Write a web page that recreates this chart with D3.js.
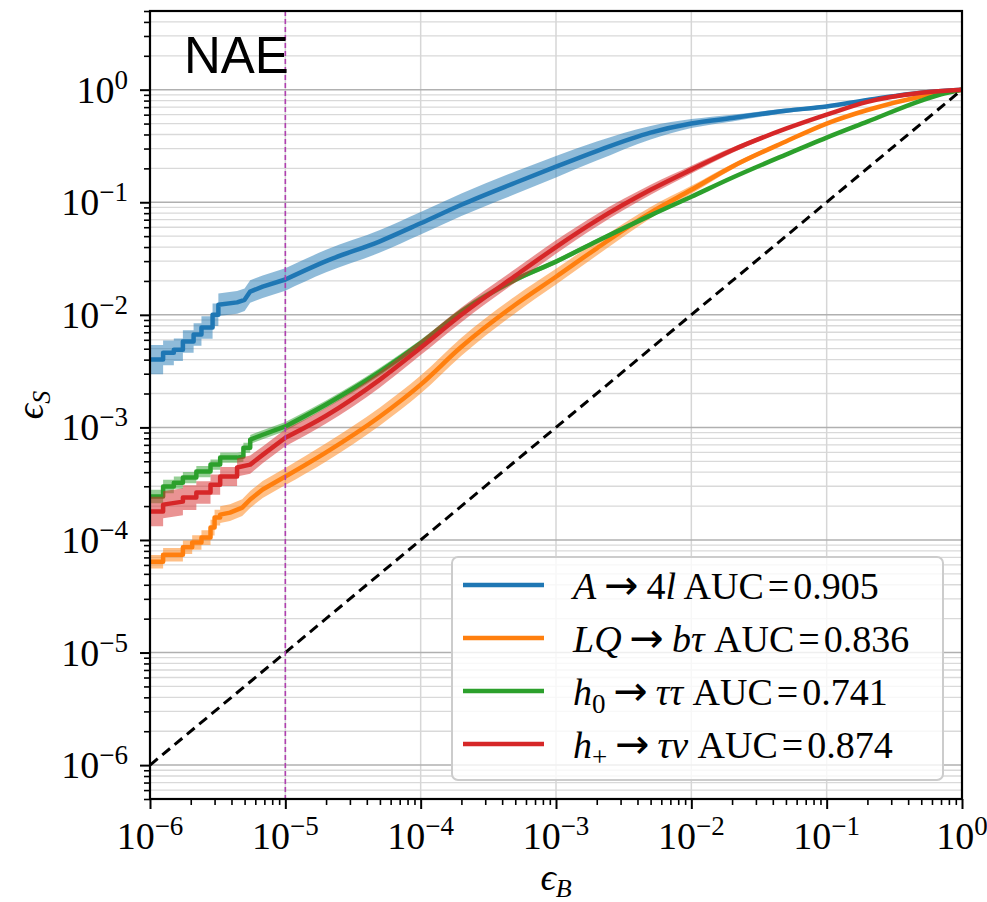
<!DOCTYPE html>
<html>
<head>
<meta charset="utf-8">
<script src="https://cdn.jsdelivr.net/npm/d3@7"></script>
<style>
  body { margin: 0; background: #fff; }
  svg text { font-family: "Liberation Serif", "DejaVu Serif", serif; }
</style>
</head>
<body>
<div id="chart"></div>
<script>
// ROC curves: [fpr, tpr, band half-width in decades]
var rocA4l = [
    [1e-6, 4.0e-3, 0.13], [1.25e-6, 4.0e-3, 0.13], [1.25e-6, 4.6e-3, 0.11], [1.5e-6, 4.6e-3, 0.11],
    [1.5e-6, 4.9e-3, 0.10], [1.75e-6, 4.9e-3, 0.10], [1.75e-6, 5.8e-3, 0.10], [2.1e-6, 5.8e-3, 0.10],
    [2.1e-6, 6.7e-3, 0.10], [2.4e-6, 6.7e-3, 0.10], [2.4e-6, 7.7e-3, 0.10], [2.9e-6, 7.7e-3, 0.10],
    [2.9e-6, 1.0e-2, 0.10], [3.2e-6, 1.0e-2, 0.10], [3.2e-6, 1.23e-2, 0.10], [4.4e-6, 1.29e-2, 0.10],
    [5.0e-6, 1.36e-2, 0.10], [5.5e-6, 1.61e-2, 0.10], [6.8e-6, 1.78e-2, 0.10], [1e-5, 2.06e-2, 0.10],
    [2e-5, 3.0e-2, 0.10], [5e-5, 4.5e-2, 0.10], [1e-4, 6.5e-2, 0.10], [2e-4, 9.5e-2, 0.10],
    [5e-4, 0.149, 0.10], [1e-3, 0.207, 0.095], [2e-3, 0.285, 0.085], [5e-3, 0.415, 0.06],
    [1e-2, 0.50, 0.04], [2e-2, 0.56, 0.03], [5e-2, 0.65, 0.02], [1e-1, 0.71, 0.014],
    [2e-1, 0.81, 0.009], [5e-1, 0.94, 0.004], [1, 1, 0]
];

var rocLQ = [
    [1e-6, 6.4e-5, 0.06], [1.25e-6, 6.4e-5, 0.06], [1.25e-6, 7.4e-5, 0.06], [1.75e-6, 7.4e-5, 0.06],
    [1.75e-6, 8.6e-5, 0.06], [2.05e-6, 8.6e-5, 0.06], [2.05e-6, 9.5e-5, 0.065], [2.4e-6, 9.5e-5, 0.065],
    [2.4e-6, 1.05e-4, 0.065], [2.8e-6, 1.05e-4, 0.065], [2.8e-6, 1.29e-4, 0.07], [3.0e-6, 1.29e-4, 0.07],
    [3.0e-6, 1.58e-4, 0.07], [3.3e-6, 1.58e-4, 0.07], [3.3e-6, 1.68e-4, 0.075], [3.9e-6, 1.75e-4, 0.075],
    [4.8e-6, 1.94e-4, 0.075], [5.5e-6, 2.29e-4, 0.075], [6.8e-6, 2.81e-4, 0.075], [1e-5, 3.66e-4, 0.075],
    [2e-5, 6.0e-4, 0.08], [5e-5, 1.25e-3, 0.08], [1e-4, 2.4e-3, 0.08], [2e-4, 5.2e-3, 0.08],
    [5e-4, 1.23e-2, 0.075], [1e-3, 2.18e-2, 0.07], [2e-3, 3.9e-2, 0.065], [5e-3, 8.1e-2, 0.05],
    [1e-2, 0.129, 0.035], [2e-2, 0.207, 0.024], [5e-2, 0.347, 0.014], [1e-1, 0.50, 0.009],
    [2e-1, 0.66, 0.006], [5e-1, 0.87, 0.003], [1, 1, 0]
];

var rocH0 = [
    [1e-6, 2.43e-4, 0.06], [1.25e-6, 2.43e-4, 0.06], [1.25e-6, 2.98e-4, 0.06], [1.5e-6, 2.98e-4, 0.06],
    [1.5e-6, 3.23e-4, 0.055], [1.75e-6, 3.23e-4, 0.055], [1.75e-6, 3.58e-4, 0.05], [2.2e-6, 3.58e-4, 0.05],
    [2.2e-6, 4.05e-4, 0.05], [2.8e-6, 4.05e-4, 0.05], [2.8e-6, 4.67e-4, 0.045], [3.3e-6, 4.67e-4, 0.045],
    [3.3e-6, 5.39e-4, 0.045], [4.4e-6, 5.39e-4, 0.045], [4.9e-6, 5.5e-4, 0.045], [4.9e-6, 6.6e-4, 0.045],
    [5.5e-6, 6.6e-4, 0.045], [5.5e-6, 7.8e-4, 0.04], [6.8e-6, 8.6e-4, 0.04], [1e-5, 1.02e-3, 0.04],
    [2e-5, 1.6e-3, 0.035], [5e-5, 3.13e-3, 0.035], [1e-4, 5.6e-3, 0.03], [2e-4, 1.07e-2, 0.03],
    [5e-4, 2.05e-2, 0.025], [1e-3, 2.97e-2, 0.022], [2e-3, 4.5e-2, 0.02], [5e-3, 7.65e-2, 0.017],
    [1e-2, 0.112, 0.014], [2e-2, 0.165, 0.011], [5e-2, 0.265, 0.009], [1e-1, 0.375, 0.007],
    [2e-1, 0.52, 0.005], [5e-1, 0.80, 0.002], [7e-1, 0.91, 0.001], [1, 1, 0]
];

var rocHp = [
    [1e-6, 1.79e-4, 0.13], [1.25e-6, 1.79e-4, 0.13], [1.25e-6, 2.06e-4, 0.12], [1.75e-6, 2.19e-4, 0.12],
    [1.75e-6, 2.38e-4, 0.11], [2.2e-6, 2.38e-4, 0.11], [2.2e-6, 2.64e-4, 0.10], [2.8e-6, 2.64e-4, 0.10],
    [2.8e-6, 3.1e-4, 0.09], [3.3e-6, 3.1e-4, 0.09], [3.3e-6, 3.66e-4, 0.085], [4.4e-6, 3.66e-4, 0.085],
    [4.4e-6, 4.4e-4, 0.08], [5.5e-6, 4.67e-4, 0.08], [6.8e-6, 5.7e-4, 0.075], [1e-5, 8.1e-4, 0.075],
    [2e-5, 1.27e-3, 0.07], [5e-5, 2.66e-3, 0.07], [1e-4, 5.1e-3, 0.065], [2e-4, 1.0e-2, 0.065],
    [5e-4, 2.22e-2, 0.06], [1e-3, 4.0e-2, 0.06], [2e-3, 6.9e-2, 0.055], [5e-3, 0.129, 0.045],
    [1e-2, 0.195, 0.035], [2e-2, 0.29, 0.024], [5e-2, 0.45, 0.014], [1e-1, 0.60, 0.009],
    [2e-1, 0.78, 0.005], [5e-1, 0.94, 0.002], [1, 1, 0]
];

var seriesColors = ['#1f77b4', '#ff7f0e', '#2ca02c', '#d62728'];

// legend labels, split into [text, style] pieces (i = italic, s = subscript, a = arrow, e = relation)
var seriesLabels = [
    [['A', 'i'], ['\u2192', 'a'], ['4', ''], ['l', 'i'], [' AUC', ''], ['=', 'e'], ['0.905', '']],
    [['LQ', 'i'], ['\u2192', 'a'], ['b\u03c4', 'i'], [' AUC', ''], ['=', 'e'], ['0.836', '']],
    [['h', 'i'], ['0', 's'], ['\u2192', 'a'], ['\u03c4\u03c4', 'i'], [' AUC', ''], ['=', 'e'], ['0.741', '']],
    [['h', 'i'], ['+', 's'], ['\u2192', 'a'], ['\u03c4\u03bd', 'i'], [' AUC', ''], ['=', 'e'], ['0.874', '']]
];

var xDomain = [1e-6, 1];
var yDomain = [5e-7, 5];
var xMajor = [1e-6, 1e-5, 1e-4, 1e-3, 1e-2, 1e-1, 1];
var xMajorExp = ['\u22126', '\u22125', '\u22124', '\u22123', '\u22122', '\u22121', '0'];
var yMajor = [1e-6, 1e-5, 1e-4, 1e-3, 1e-2, 1e-1, 1];
var yMajorExp = ['\u22126', '\u22125', '\u22124', '\u22123', '\u22122', '\u22121', '0'];
var diagonal = [[1e-6, 1e-6], [1, 1]];
var workingPoint = 1e-5;
var panelTitle = 'NAE';

function minorTicks(domain) {
    var out = [];
    for (var e = -8; e <= 1; e++) {
        for (var k = 2; k <= 9; k++) {
            var v = k * Math.pow(10, e);
            if (v >= domain[0] * 0.999 && v <= domain[1] * 1.001) out.push(v);
        }
    }
    return out;
}

function drawChart() {
    var width = 987, height = 902;
    var left = 150, right = 962, top = 11, bottom = 799;

    var svg = d3.select('#chart').append('svg')
        .attr('width', width)
        .attr('height', height);

    var x = d3.scaleLog().domain(xDomain).range([left, right]);
    var y = d3.scaleLog().domain(yDomain).range([bottom, top]);

    svg.append('defs').append('clipPath').attr('id', 'plot-clip')
        .append('rect')
        .attr('x', left).attr('y', top)
        .attr('width', right - left).attr('height', bottom - top);

    var yMinor = minorTicks(yDomain);

    // grid lines
    var grid = svg.append('g');
    grid.selectAll('.ygm').data(yMinor).enter().append('line')
        .attr('x1', left).attr('x2', right)
        .attr('y1', d => y(d)).attr('y2', d => y(d))
        .style('stroke', '#d9d9d9').style('stroke-width', 1.3);
    grid.selectAll('.xg').data(xMajor.slice(1, -1)).enter().append('line')
        .attr('x1', d => x(d)).attr('x2', d => x(d))
        .attr('y1', top).attr('y2', bottom)
        .style('stroke', '#d6d6d6').style('stroke-width', 1.5);
    grid.selectAll('.ygM').data(yMajor).enter().append('line')
        .attr('x1', left).attr('x2', right)
        .attr('y1', d => y(d)).attr('y2', d => y(d))
        .style('stroke', '#b0b0b0').style('stroke-width', 1.5);

    var plot = svg.append('g').attr('clip-path', 'url(#plot-clip)');

    // stepped part (low fpr) straight, the rest smoothed; one path each
    function curvePath(data, withBand) {
        var k = data.findIndex(d => d[0] >= workingPoint);
        var p = d3.path();
        var started = false;
        var ctx = {
            moveTo: function (a, b) {
                if (started) p.lineTo(a, b);
                else { p.moveTo(a, b); started = true; }
            },
            lineTo: function (a, b) { p.lineTo(a, b); },
            bezierCurveTo: function (a, b, c, d, e, f) { p.bezierCurveTo(a, b, c, d, e, f); },
            closePath: function () {}
        };
        var stepLine = d3.line().curve(d3.curveLinear).context(ctx);
        var smoothLine = d3.line().curve(d3.curveMonotoneX).context(ctx);
        var hi = d => [x(d[0]), y(d[1] * Math.pow(10, withBand ? d[2] : 0))];
        var lo = d => [x(d[0]), y(d[1] * Math.pow(10, -d[2]))];
        stepLine(data.slice(0, k + 1).map(hi));
        smoothLine(data.slice(k).map(hi));
        if (withBand) {
            smoothLine(data.slice(k).reverse().map(lo));
            stepLine(data.slice(0, k + 1).reverse().map(lo));
            p.closePath();
        }
        return p.toString();
    }

    [rocA4l, rocLQ, rocH0, rocHp].forEach(function (data, i) {
        plot.append('path')
            .attr('d', curvePath(data, true))
            .style('fill', seriesColors[i])
            .style('fill-opacity', 0.5)
            .style('stroke', 'none');
        plot.append('path')
            .attr('d', curvePath(data, false))
            .style('fill', 'none')
            .style('stroke', seriesColors[i])
            .style('stroke-width', 4.5)
            .style('stroke-linejoin', 'round');
    });

    // random classifier
    var line = d3.line().x(d => x(d[0])).y(d => y(d[1]));
    plot.append('path')
        .attr('d', line(diagonal))
        .style('stroke', '#000')
        .style('stroke-width', 3)
        .style('stroke-dasharray', '10,6')
        .style('fill', 'none');

    // working point
    plot.append('line')
        .attr('x1', x(workingPoint)).attr('x2', x(workingPoint))
        .attr('y1', top).attr('y2', bottom)
        .style('stroke', '#b040b0')
        .style('stroke-width', 1.6)
        .style('stroke-dasharray', '5,3');

    // axes
    var xAxisMajor = d3.axisBottom(x).tickValues(xMajor).tickSize(10).tickFormat('');
    var xAxisMinor = d3.axisBottom(x).tickValues(minorTicks(xDomain)).tickSize(6).tickFormat('');
    var yAxisMajor = d3.axisLeft(y).tickValues(yMajor).tickSize(10).tickFormat('');
    var yAxisMinor = d3.axisLeft(y).tickValues(yMinor).tickSize(6).tickFormat('');

    [
        [xAxisMajor, 'translate(0,' + bottom + ')', 2],
        [xAxisMinor, 'translate(0,' + bottom + ')', 1.6],
        [yAxisMajor, 'translate(' + left + ',0)', 2],
        [yAxisMinor, 'translate(' + left + ',0)', 1.6]
    ].forEach(function (a) {
        var g = svg.append('g').attr('transform', a[1]).call(a[0]);
        g.select('.domain').remove();
        g.selectAll('line').style('stroke', '#000').style('stroke-width', a[2]);
    });

    // frame
    svg.append('rect')
        .attr('x', left).attr('y', top)
        .attr('width', right - left).attr('height', bottom - top)
        .style('fill', 'none')
        .style('stroke', '#000')
        .style('stroke-width', 2.2);

    // tick labels
    var xl = svg.append('g').selectAll('text').data(xMajor).enter().append('text')
        .attr('x', d => x(d))
        .attr('y', 849)
        .attr('text-anchor', 'middle')
        .style('font-size', '38px');
    xl.append('tspan').text('10');
    xl.append('tspan').attr('dy', -14).style('font-size', '27px').text((d, i) => xMajorExp[i]);

    var yl = svg.append('g').selectAll('text').data(yMajor).enter().append('text')
        .attr('x', 128)
        .attr('y', d => y(d) + 13)
        .attr('text-anchor', 'end')
        .style('font-size', '38px');
    yl.append('tspan').text('10');
    yl.append('tspan').attr('dy', -14).style('font-size', '27px').text((d, i) => yMajorExp[i]);

    // axis titles
    var xt = svg.append('text')
        .attr('x', (left + right) / 2)
        .attr('y', 890)
        .attr('text-anchor', 'middle')
        .style('font-size', '38px');
    xt.append('tspan').style('font-style', 'italic').text('\u03f5');
    xt.append('tspan').attr('dy', 7).style('font-size', '26px').style('font-style', 'italic').text('B');

    var yt = svg.append('text')
        .attr('transform', 'translate(43,' + ((top + bottom) / 2) + ') rotate(-90)')
        .attr('text-anchor', 'middle')
        .style('font-size', '38px');
    yt.append('tspan').style('font-style', 'italic').text('\u03f5');
    yt.append('tspan').attr('dy', 7).style('font-size', '26px').style('font-style', 'italic').text('S');

    // panel title
    svg.append('text')
        .attr('x', 184)
        .attr('y', 73)
        .style('font-family', '"Liberation Sans", Arial, sans-serif')
        .style('font-size', '51px')
        .text(panelTitle);

    // legend
    var lg = svg.append('g');
    lg.append('rect')
        .attr('x', 452).attr('y', 557)
        .attr('width', 491).attr('height', 223)
        .attr('rx', 6)
        .style('fill', '#fff')
        .style('fill-opacity', 0.8)
        .style('stroke', '#cccccc')
        .style('stroke-width', 2);

    seriesLabels.forEach(function (parts, i) {
        var ly = 585 + i * 53;
        lg.append('line')
            .attr('x1', 463).attr('x2', 544)
            .attr('y1', ly).attr('y2', ly)
            .style('stroke', seriesColors[i])
            .style('stroke-width', 4.5);
        var t = lg.append('text')
            .attr('x', 573)
            .attr('y', ly + 14)
            .style('font-size', '38px');
        var shift = 0;
        var gapNext = 0;
        parts.forEach(function (p) {
            var s = t.append('tspan').text(p[0]);
            var dx = gapNext;
            gapNext = 0;
            if (p[1] === 'i') s.style('font-style', 'italic');
            if (p[1] === 'a') {
                s.style('font-family', '"DejaVu Sans", sans-serif').style('font-size', '41px');
                dx += 8;
                gapNext = 8;
            }
            if (p[1] === 'e') {
                dx += 4;
                gapNext = 4;
            }
            if (dx) s.attr('dx', dx);
            if (p[1] === 's') {
                s.style('font-size', '27px').attr('dy', 8);
                shift = 8;
            } else if (shift) {
                s.attr('dy', -shift);
                shift = 0;
            }
        });
    });
}

drawChart();
</script>
</body>
</html>
